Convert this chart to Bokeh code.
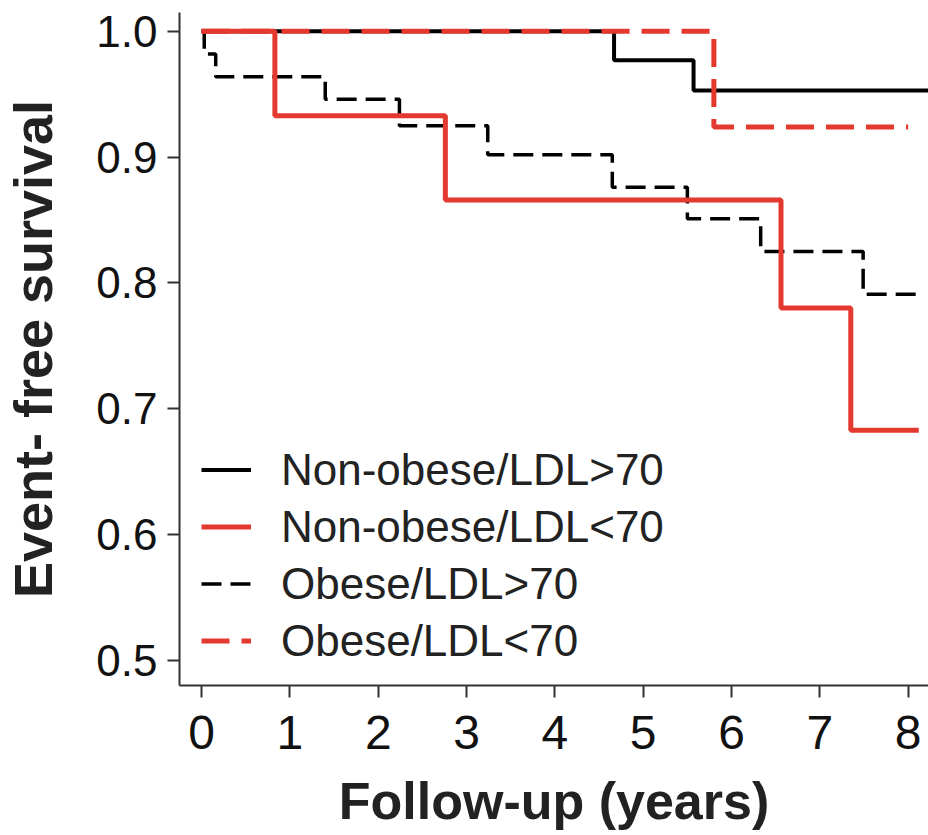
from bokeh.plotting import figure
from bokeh.models import Range1d, FixedTicker, Legend, LegendItem, PrintfTickFormatter
from bokeh.embed import file_html
from bokeh.resources import INLINE

# Kaplan-Meier step data (time of change, survival after change)
nonobese_hi_t = [0.0, 4.67, 5.57, 8.6]
nonobese_hi_s = [1.0, 0.977, 0.953, 0.953]

nonobese_lo_t = [0.0, 0.83, 2.76, 6.56, 7.35, 8.12]
nonobese_lo_s = [1.0, 0.933, 0.866, 0.780, 0.683, 0.683]

obese_hi_t = [0.0, 0.03, 0.16, 1.40, 2.24, 3.24, 4.65, 5.50, 6.33, 7.49, 8.12]
obese_hi_s = [1.0, 0.982, 0.964, 0.946, 0.925, 0.902, 0.876, 0.851, 0.825, 0.791, 0.791]

obese_lo_t = [0.0, 5.80, 8.0]
obese_lo_s = [1.0, 0.924, 0.924]

x_ticks = [0, 1, 2, 3, 4, 5, 6, 7, 8]
y_ticks = [0.5, 0.6, 0.7, 0.8, 0.9, 1.0]

labels = ["Non-obese/LDL>70", "Non-obese/LDL<70", "Obese/LDL>70", "Obese/LDL<70"]

RED = "#e3392f"
FONT = "Liberation Sans"

p = figure(width=928, height=835, output_backend="svg", toolbar_location=None,
           x_range=Range1d(-0.25, 8.23), y_range=Range1d(0.480, 1.015),
           min_border_left=178, min_border_right=0, min_border_top=12,
           min_border_bottom=150)
p.outline_line_color = None
p.xgrid.visible = False
p.ygrid.visible = False
p.background_fill_color = "white"
p.border_fill_color = "white"

r1 = p.step(nonobese_hi_t, nonobese_hi_s, mode="after", line_color="black", line_width=4)
r3 = p.step(obese_hi_t, obese_hi_s, mode="after", line_color="black", line_width=3.5,
            line_dash="20 9")
r2 = p.step(nonobese_lo_t, nonobese_lo_s, mode="after", line_color=RED, line_width=5)
r4 = p.step(obese_lo_t, obese_lo_s, mode="after", line_color=RED, line_width=5,
            line_dash="28 12")

for ax in (p.xaxis[0], p.yaxis[0]):
    ax.axis_line_color = "#333333"
    ax.axis_line_width = 2
    ax.major_tick_line_color = "#333333"
    ax.major_tick_line_width = 2
    ax.major_tick_out = 12
    ax.major_tick_in = 0
    ax.minor_tick_line_color = None
    ax.major_label_text_font = FONT
    ax.major_label_text_color = "#111111"
    ax.axis_label_text_font = FONT
    ax.axis_label_text_font_style = "bold"
    ax.axis_label_text_color = "#222222"

p.xaxis.ticker = FixedTicker(ticks=x_ticks)
p.yaxis.ticker = FixedTicker(ticks=y_ticks)
p.yaxis.formatter = PrintfTickFormatter(format="%.1f")
p.xaxis.major_label_text_font_size = "48px"
p.yaxis.major_label_text_font_size = "44px"
p.xaxis.major_label_standoff = 18
p.yaxis.major_label_standoff = 10
p.xaxis.axis_label = "Follow-up (years)"
p.yaxis.axis_label = "Event- free survival"
p.xaxis.axis_label_text_font_size = "52px"
p.yaxis.axis_label_text_font_size = "54px"
p.xaxis.axis_label_standoff = 20
p.yaxis.axis_label_standoff = 30

legend = Legend(items=[LegendItem(label=labels[0], renderers=[r1]),
                       LegendItem(label=labels[1], renderers=[r2]),
                       LegendItem(label=labels[2], renderers=[r3]),
                       LegendItem(label=labels[3], renderers=[r4])],
                location=(22, 16), orientation="vertical",
                padding=0, margin=0, spacing=0,
                glyph_width=50, glyph_height=57, label_height=57,
                label_standoff=30,
                label_text_font=FONT, label_text_font_size="44px",
                label_text_color="#222222",
                border_line_alpha=0, background_fill_alpha=0)
p.add_layout(legend, "center")

open("out.html", "w").write(file_html(p, INLINE))
